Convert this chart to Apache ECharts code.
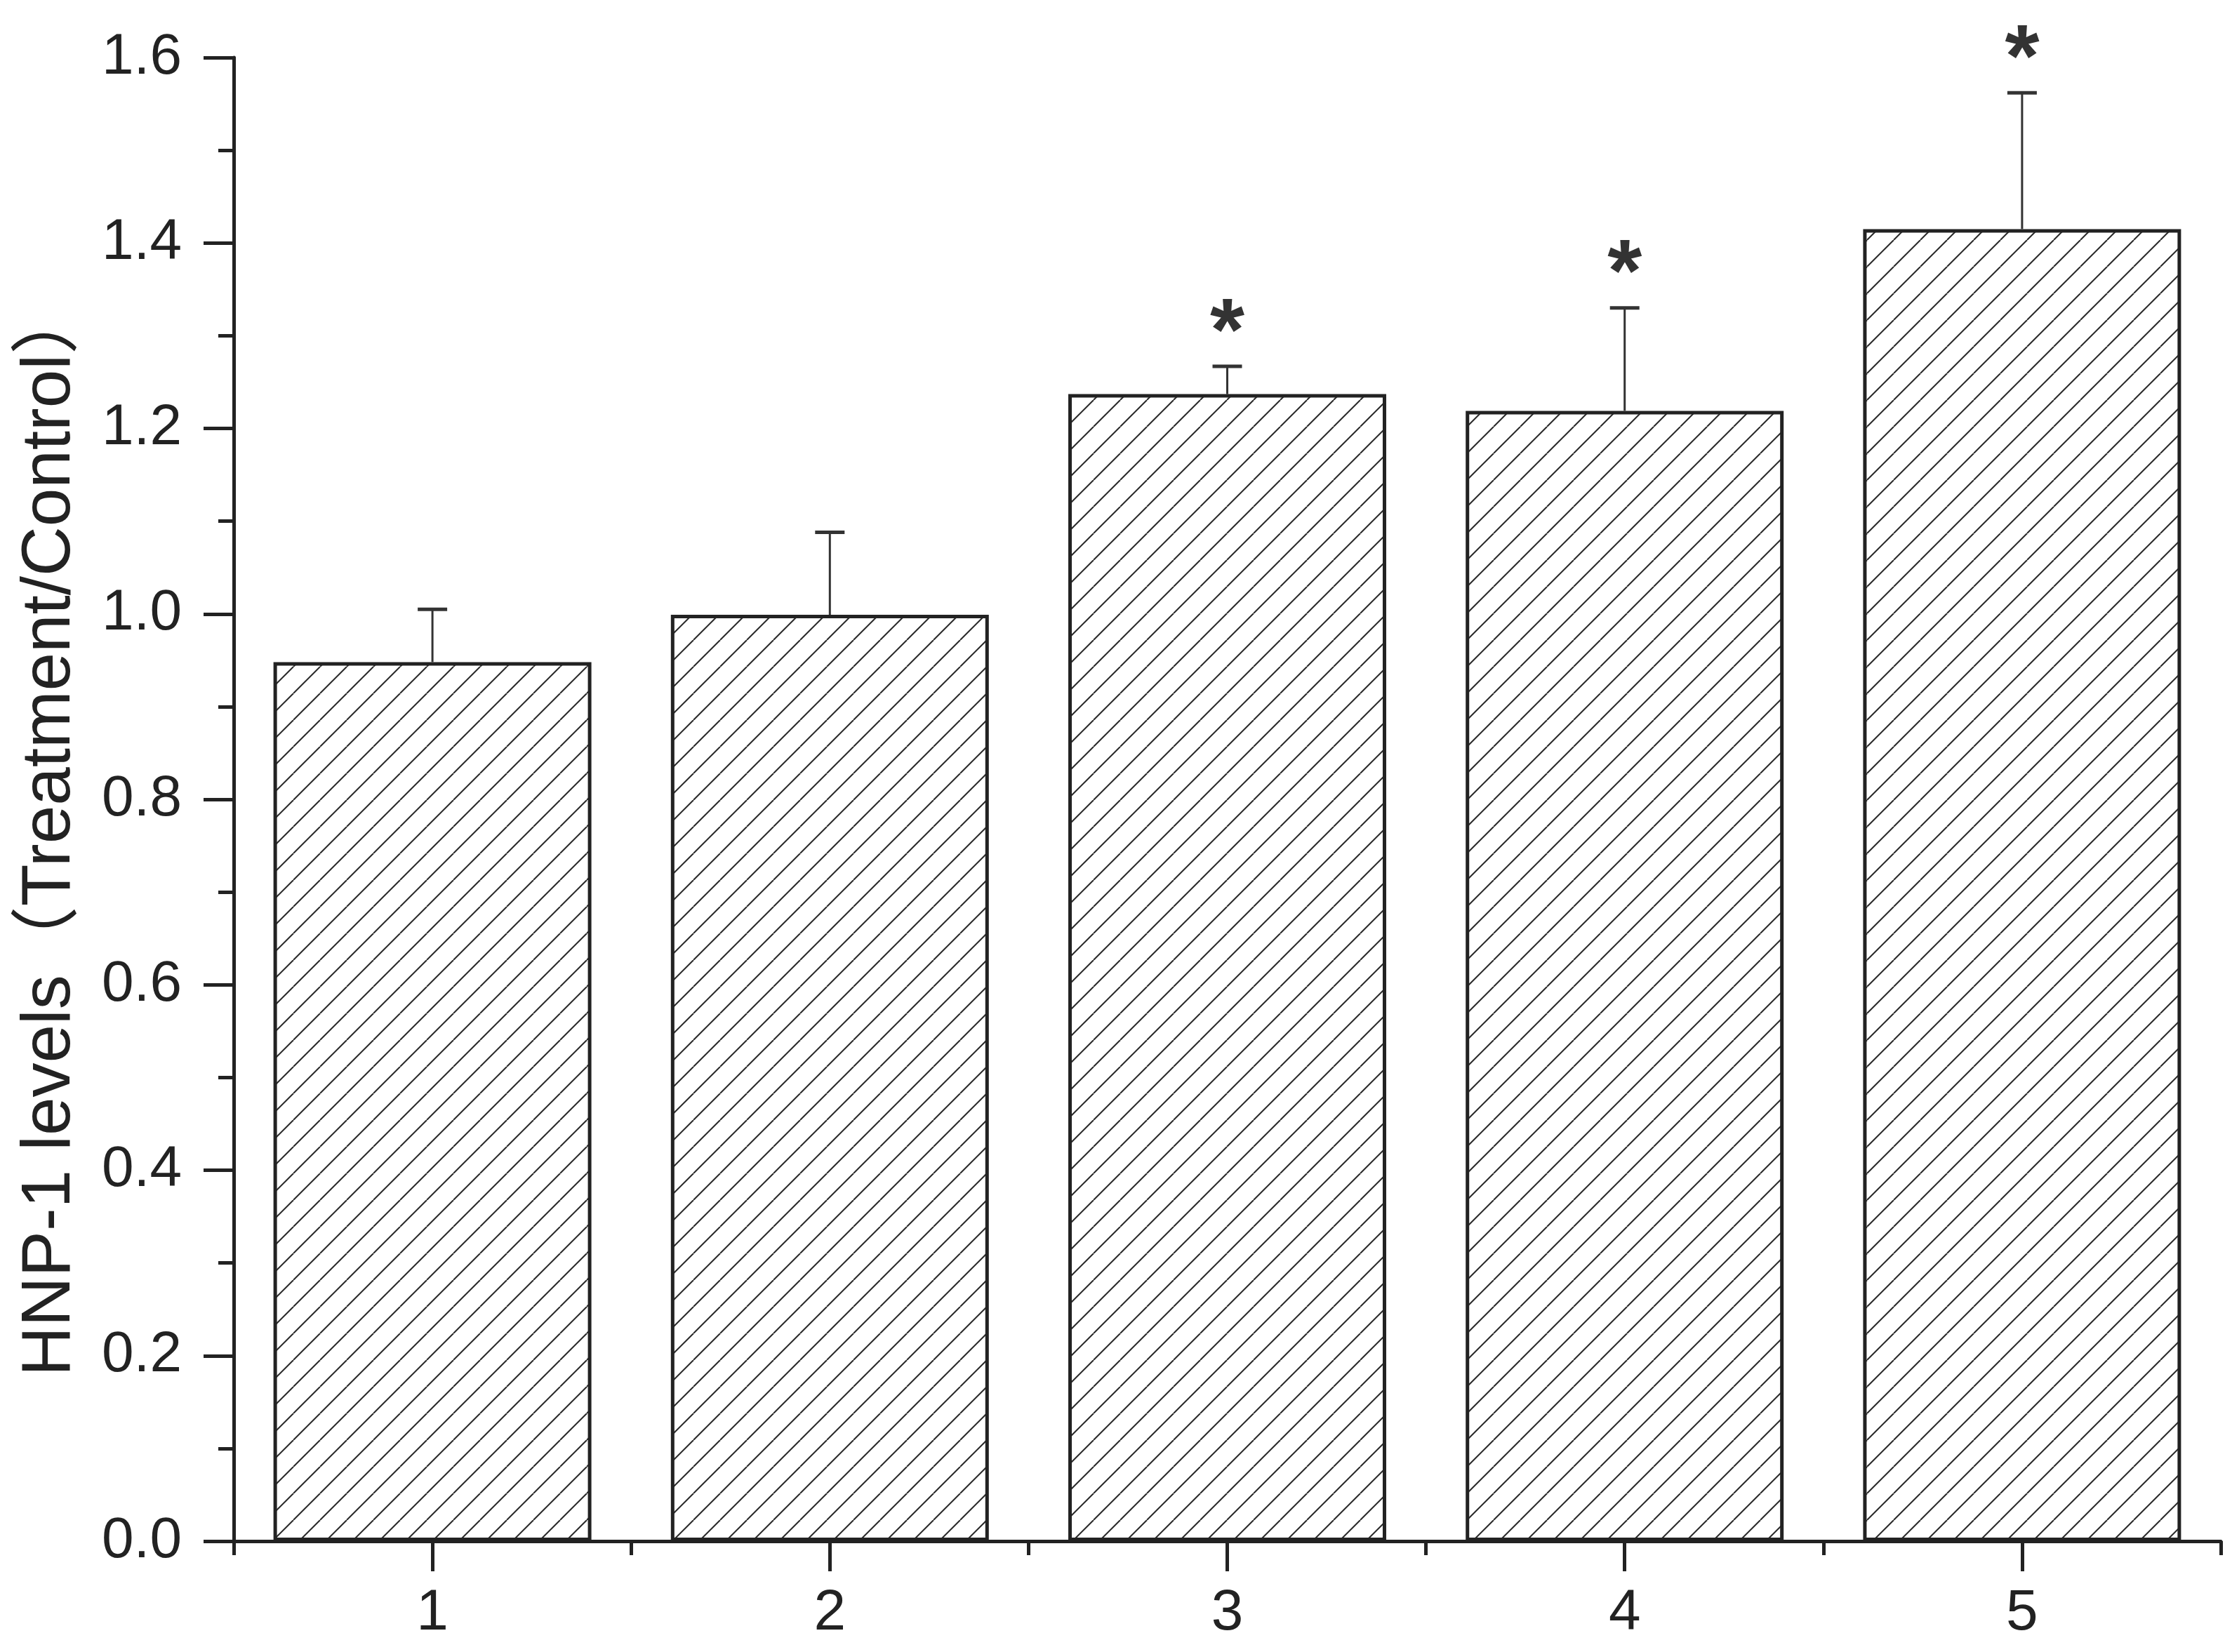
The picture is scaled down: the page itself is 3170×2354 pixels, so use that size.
<!DOCTYPE html>
<html>
<head>
<meta charset="utf-8">
<script src="https://cdn.jsdelivr.net/npm/echarts@6/dist/echarts.min.js"></script>
<style>
  html, body { margin: 0; padding: 0; background: #ffffff; }
  #chart { width: 3170px; height: 2354px; }
</style>
</head>
<body>
<div id="chart"></div>
<script>
// ---- data ----
const categories = ['1', '2', '3', '4', '5'];
const means = [0.948, 0.999, 1.237, 1.219, 1.415];
const errors = [0.057, 0.089, 0.030, 0.111, 0.147];
const marks = ['', '', '*', '*', '*'];
const yTicks = [0, 0.2, 0.4, 0.6, 0.8, 1.0, 1.2, 1.4, 1.6];
const yTitle = 'HNP-1 levels（Treatment/Control）';

// ---- hatch pattern (style only) ----
function makeHatch(size, color, width) {
  const c = document.createElement('canvas');
  c.width = size; c.height = size;
  const ctx = c.getContext('2d');
  ctx.fillStyle = '#ffffff';
  ctx.fillRect(0, 0, size, size);
  ctx.strokeStyle = color;
  ctx.lineWidth = width;
  for (let k = -1; k <= 1; k++) {
    ctx.beginPath();
    ctx.moveTo(k * size, size);
    ctx.lineTo(k * size + size, 0);
    ctx.stroke();
  }
  return c;
}
const hatch = makeHatch(38, '#2a2a2a', 2);

const FONT = '"Liberation Sans", Arial, "Noto Sans CJK SC", sans-serif';
const INK = '#222222';

const chart = echarts.init(document.getElementById('chart'), null, { renderer: 'canvas' });

const gridTop = 82, gridBottom = 158;
const gridHeight = 2354 - gridTop - gridBottom;

const option = {
  backgroundColor: '#ffffff',
  animation: false,
  grid: { left: 333, right: 6, top: gridTop, bottom: gridBottom, containLabel: false },
  xAxis: [
    {
      type: 'category',
      data: categories,
      position: 'bottom',
      boundaryGap: true,
      axisLine: { show: true, lineStyle: { color: INK, width: 5 } },
      axisTick: { show: true, alignWithLabel: true, length: 43, lineStyle: { color: INK, width: 5 } },
      axisLabel: { show: true, margin: 62, fontSize: 82, color: INK, fontFamily: FONT },
      splitLine: { show: false }
    },
    {
      type: 'category',
      data: categories,
      position: 'top',
      offset: -gridHeight,
      boundaryGap: true,
      axisLine: { show: false },
      axisTick: { show: true, inside: true, length: 20, lineStyle: { color: INK, width: 5 } },
      axisLabel: { show: false },
      splitLine: { show: false }
    }
  ],
  yAxis: {
    type: 'value',
    min: yTicks[0],
    max: yTicks[yTicks.length - 1],
    interval: yTicks[1] - yTicks[0],
    name: yTitle,
    nameLocation: 'middle',
    nameGap: 212,
    nameTextStyle: { fontSize: 98, color: INK, fontFamily: FONT, padding: [0, 90, 0, 0] },
    axisLine: { show: true, lineStyle: { color: INK, width: 5 } },
    axisTick: { show: true, length: 43, lineStyle: { color: INK, width: 5 } },
    minorTick: { show: true, splitNumber: 2, length: 22, lineStyle: { color: INK, width: 5 } },
    axisLabel: {
      margin: 74, fontSize: 82, color: INK, fontFamily: FONT,
      formatter: v => v.toFixed(1)
    },
    splitLine: { show: false }
  },
  series: [
    {
      type: 'bar',
      data: means,
      xAxisIndex: 0,
      barWidth: '80%',
      itemStyle: {
        color: { image: hatch, repeat: 'repeat' },
        borderColor: INK,
        borderWidth: 5
      },
      z: 2
    },
    {
      type: 'custom',
      xAxisIndex: 0,
      clip: false,
      z: 3,
      data: categories.map((c, i) => [i, means[i], errors[i], marks[i]]),
      renderItem: function (params, api) {
        const i = api.value(0);
        const m = api.value(1);
        const e = api.value(2);
        const mark = marks[params.dataIndex];
        const base = api.coord([i, m]);
        const top = api.coord([i, m + e]);
        const half = 21;
        const children = [
          { type: 'line', shape: { x1: base[0], y1: base[1], x2: top[0], y2: top[1] },
            style: { stroke: '#333', lineWidth: 3 } },
          { type: 'line', shape: { x1: top[0] - half, y1: top[1], x2: top[0] + half, y2: top[1] },
            style: { stroke: '#333', lineWidth: 5 } }
        ];
        if (mark) {
          children.push({
            type: 'text',
            x: top[0],
            y: top[1] - 44,
            style: {
              text: mark, fontSize: 126, fontWeight: 'bold', fontFamily: FONT,
              fill: '#333', align: 'center', verticalAlign: 'middle'
            }
          });
        }
        return { type: 'group', children: children };
      }
    }
  ]
};

chart.setOption(option);
</script>
</body>
</html>
